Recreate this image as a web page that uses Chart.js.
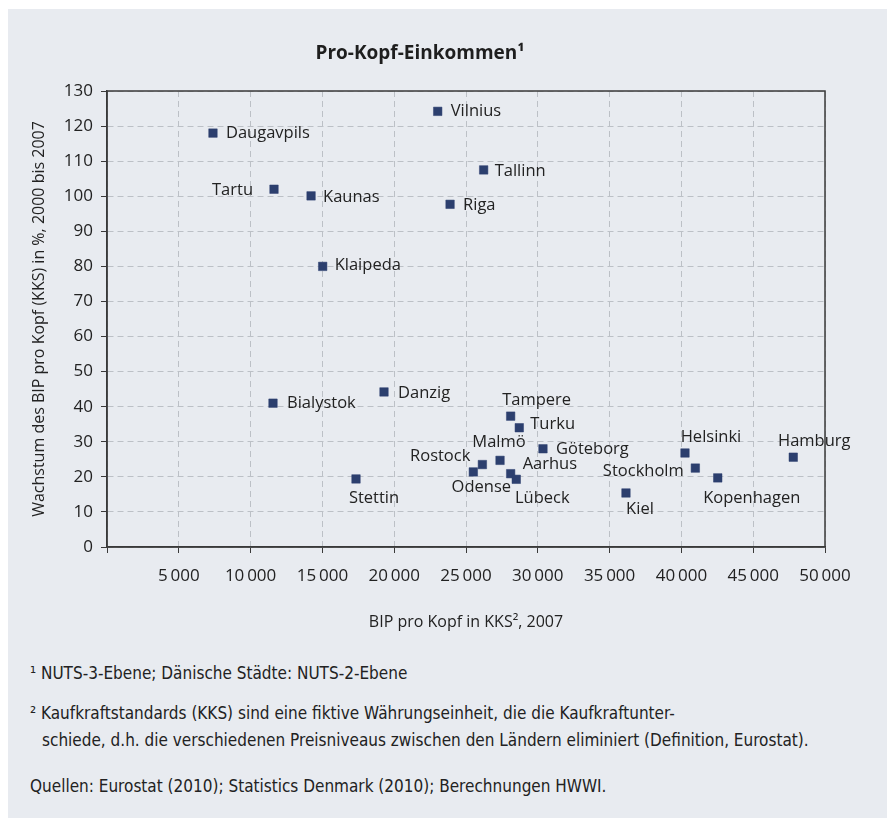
<!DOCTYPE html>
<html>
<head>
<meta charset="utf-8">
<script src="https://cdn.jsdelivr.net/npm/chart.js@4/dist/chart.umd.min.js"></script>
<style>
  body { margin: 0; background: #fff; }
  .panel { position: absolute; left: 8px; top: 9px; width: 879px; height: 809px; background: #e8ebf0; }
  .chart-box { position: absolute; left: 0; top: 0; width: 893px; height: 650px; }
  .title { position: absolute; left: 0; width: 840px; top: 40px; text-align: center;
           font: bold 19px "Open Sans", sans-serif; color: #1e1e1e; line-height: 24px; }
  .note { position: absolute; left: 30px; font: 17px "Liberation Sans Narrow", "DejaVu Sans Condensed", sans-serif;
          color: #222; line-height: 20px; white-space: nowrap; }
</style>
</head>
<body>
<div class="panel"></div>
<div class="chart-box"><canvas id="scatter"></canvas></div>
<div class="title">Pro-Kopf-Einkommen¹</div>
<div class="note" style="top:663px">¹ NUTS-3-Ebene; Dänische Städte: NUTS-2-Ebene</div>
<div class="note" style="top:703px">² Kaufkraftstandards (KKS) sind eine fiktive Währungseinheit, die die Kaufkraftunter-</div>
<div class="note" style="top:730px; left:42px">schiede, d.h. die verschiedenen Preisniveaus zwischen den Ländern eliminiert (Definition, Eurostat).</div>
<div class="note" style="top:776px">Quellen: Eurostat (2010); Statistics Denmark (2010); Berechnungen HWWI.</div>
<script>
// Data
const cities = ['Daugavpils', 'Vilnius', 'Tallinn', 'Tartu', 'Kaunas', 'Riga', 'Klaipeda', 'Bialystok',
    'Danzig', 'Stettin', 'Tampere', 'Turku', 'Göteborg', 'Malmö', 'Rostock', 'Odense', 'Aarhus',
    'Lübeck', 'Kiel', 'Helsinki', 'Stockholm', 'Kopenhagen', 'Hamburg'];
const bipProKopf = [7380, 23030, 26230, 11630, 14210, 23890, 15020, 11560, 19290, 17340, 28110,
    28710, 30360, 27370, 26140, 25510, 28110, 28500, 36140, 40250, 40970, 42530, 47790];
const wachstum = [118.0, 124.2, 107.5, 102.0, 100.1, 97.7, 80.0, 41.0, 44.2, 19.4, 37.3,
    34.0, 28.0, 24.7, 23.5, 21.4, 20.9, 19.3, 15.4, 26.8, 22.5, 19.7, 25.6];
const xTicks = [0, 5000, 10000, 15000, 20000, 25000, 30000, 35000, 40000, 45000, 50000];
const yTicks = [0, 10, 20, 30, 40, 50, 60, 70, 80, 90, 100, 110, 120, 130];

// label placement: [dx, dy, align] relative to the marker
const labelPlacement = {
    'Daugavpils': [13, 0, 'left'], 'Vilnius': [13, 0, 'left'], 'Tallinn': [11, 1, 'left'],
    'Tartu': [-21, 1, 'right'], 'Kaunas': [12, 1, 'left'], 'Riga': [13, 1, 'left'],
    'Klaipeda': [12, -1, 'left'], 'Bialystok': [14, 0, 'left'], 'Danzig': [14, 1, 'left'],
    'Stettin': [18, 19, 'center'], 'Tampere': [26, -16, 'center'], 'Turku': [11, -3, 'left'],
    'Göteborg': [13, 1, 'left'], 'Malmö': [-1, -18, 'center'], 'Rostock': [-12, -8, 'right'],
    'Odense': [8, 15, 'center'], 'Aarhus': [12, -9, 'left'], 'Lübeck': [26, 19, 'center'],
    'Kiel': [14, 16, 'center'], 'Helsinki': [26, -16, 'center'], 'Stockholm': [-52, 3, 'center'],
    'Kopenhagen': [34, 20, 'center'], 'Hamburg': [21, -16, 'center']
};

const points = bipProKopf.map((x, i) => ({ x: x, y: wachstum[i] }));

const textColor = '#222';
const axisColor = '#3a3a3a';

const pointLabels = {
    id: 'pointLabels',
    afterDatasetsDraw(chart) {
        const ctx = chart.ctx;
        const meta = chart.getDatasetMeta(0);
        ctx.save();
        ctx.font = '16.5px "Open Sans", sans-serif';
        ctx.fillStyle = textColor;
        ctx.textBaseline = 'middle';
        meta.data.forEach((pt, i) => {
            const p = labelPlacement[cities[i]];
            ctx.textAlign = p[2];
            ctx.fillText(cities[i], pt.x + p[0], pt.y + p[1]);
        });
        ctx.restore();
    }
};

const frame = {
    id: 'frame',
    afterDraw(chart) {
        const a = chart.chartArea;
        const ctx = chart.ctx;
        ctx.save();
        ctx.strokeStyle = axisColor;
        ctx.lineWidth = 1.5;
        ctx.strokeRect(a.left, a.top, a.right - a.left, a.bottom - a.top);
        ctx.restore();
    }
};

const tickFont = { family: '"Open Sans", sans-serif', size: 17 };
const titleFont = { family: '"Open Sans", sans-serif', size: 16 };

new Chart(document.getElementById('scatter'), {
    type: 'scatter',
    data: {
        datasets: [{
            data: points,
            pointStyle: 'rect',
            pointRadius: 6,
            pointHoverRadius: 6,
            backgroundColor: '#2c3f6e',
            borderColor: '#2c3f6e',
            borderWidth: 0.5
        }]
    },
    options: {
        responsive: true,
        maintainAspectRatio: false,
        animation: false,
        layout: { padding: { top: 91, right: 68, left: 0, bottom: 13 } },
        plugins: { legend: { display: false }, tooltip: { enabled: false } },
        scales: {
            x: {
                type: 'linear',
                min: xTicks[0],
                max: xTicks[xTicks.length - 1],
                afterBuildTicks: s => { s.ticks = xTicks.map(v => ({ value: v })); },
                afterFit: s => { s.height = 90; },
                grid: { color: '#bcc0c6', tickColor: axisColor, tickLength: 6, lineWidth: 1 },
                border: { color: axisColor, width: 1.5, dash: [6, 4] },
                ticks: {
                    color: textColor, font: tickFont, padding: 13, maxRotation: 0,
                    callback: v => v === 0 ? '' : String(v).replace(/\B(?=(\d{3})+$)/g, '\u2009')
                },
                title: {
                    display: true, text: 'BIP pro Kopf in KKS², 2007', color: textColor,
                    font: titleFont, padding: { bottom: 5, top: 0 }
                }
            },
            y: {
                min: yTicks[0],
                max: yTicks[yTicks.length - 1],
                afterBuildTicks: s => { s.ticks = yTicks.map(v => ({ value: v })); },
                afterFit: s => { s.width = 107; },
                grid: { color: '#bcc0c6', tickColor: axisColor, tickLength: 6, lineWidth: 1 },
                border: { color: axisColor, width: 1.5, dash: [6, 4] },
                ticks: { color: textColor, font: tickFont, padding: 8 },
                title: {
                    display: true, text: 'Wachstum des BIP pro Kopf (KKS) in %, 2000 bis 2007', color: textColor,
                    font: titleFont, padding: { top: 30, bottom: 0 }
                }
            }
        }
    },
    plugins: [pointLabels, frame]
});
</script>
</body>
</html>
